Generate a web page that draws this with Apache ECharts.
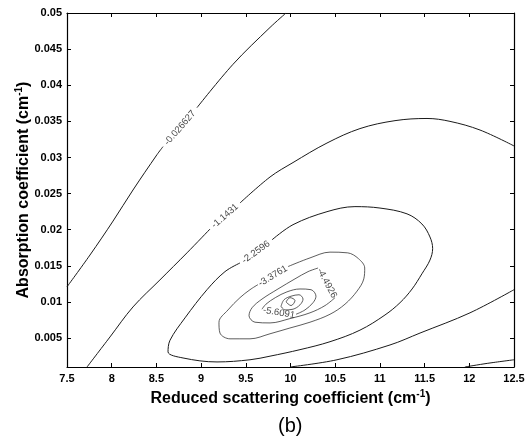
<!DOCTYPE html>
<html><head><meta charset="utf-8">
<script src="https://cdn.jsdelivr.net/npm/echarts@6/dist/echarts.min.js"></script>
<style>html,body{margin:0;padding:0;background:#fff}#c{width:532px;height:446px}</style>
</head><body><div id="c"></div>
<script>
// ---- data ----
const xTicks = [7.5, 8, 8.5, 9, 9.5, 10, 10.5, 11, 11.5, 12, 12.5];
const yTicks = [0.005, 0.01, 0.015, 0.02, 0.025, 0.03, 0.035, 0.04, 0.045, 0.05];
const levelNames = ['-0.026627', '-1.1431', '-2.2596', '-3.3761', '-4.4926', '-5.6091'];
const levelLabelPos = [[8.764, 0.0341], [9.267, 0.0219], [9.614, 0.0169], [9.804, 0.0136], [10.408, 0.0126], [9.871, 0.0085]];

// level -0.026627
const c1a = [[7.5,0.0121],[7.757,0.0165],[8.015,0.0212],[8.238,0.0255],[8.507,0.0304],[8.574,0.0315]];
const c1b = [[8.954,0.0369],[9.357,0.0429],[9.771,0.0480],[9.95,0.05]];
const c1c = [[11.95,0.001],[12.2,0.0015],[12.5,0.0020]];
// level -1.1431
const c2a = [[7.724,0.001],[7.981,0.00516],[8.238,0.00931],[8.54,0.01306],[8.842,0.0168],[9.1,0.0201]];
const c2b = [[9.435,0.0237],[9.771,0.0273],[10.028,0.0293],[10.408,0.0320],[10.777,0.0340],[11.169,0.0351],[11.527,0.0354],[11.784,0.0350],[12.12,0.0338],[12.5,0.0316]];
const c2c = [[9.994,0.001],[10.52,0.0020],[11.113,0.00405],[11.449,0.0057],[12.008,0.0085],[12.5,0.0117]];
// level -2.2596
const c3 = [[9.793,0.0186],[10.028,0.0207],[10.408,0.0225],[10.721,0.0232],[11.001,0.0230],[11.303,0.0222],[11.47,0.0208],[11.56,0.0190],[11.59,0.0174],[11.56,0.0158],[11.47,0.0139],[11.36,0.0118],[11.225,0.0099],[11.057,0.0082],[10.777,0.0061],[10.442,0.0045],[10.106,0.0034],[9.771,0.0025],[9.547,0.0020],[9.178,0.0017],[8.798,0.00225],[8.63,0.0031],[8.652,0.0047],[8.82,0.0078],[9.066,0.0117],[9.267,0.0142],[9.435,0.0154]];
// level -3.3761
const c4 = [[9.972,0.0149],[10.218,0.0161],[10.442,0.0169],[10.64,0.0168],[10.76,0.0160],[10.83,0.0147],[10.82,0.0132],[10.744,0.0115],[10.61,0.0097],[10.442,0.0083],[10.218,0.0072],[9.994,0.0064],[9.771,0.0056],[9.547,0.0049],[9.323,0.0049],[9.211,0.0057],[9.2,0.0072],[9.301,0.0089],[9.435,0.0106],[9.547,0.0117],[9.636,0.0124]];
// level -4.4926
const c5 = [[10.498,0.0106],[10.386,0.0095],[10.218,0.0085],[9.994,0.0077],[9.771,0.0071],[9.603,0.0072],[9.536,0.0081],[9.57,0.0092],[9.681,0.0104],[9.86,0.0118],[10.05,0.0132],[10.196,0.0142],[10.308,0.0147]];
// level -5.6091
const c6 = [[10.062,0.0083],[10.162,0.0089],[10.252,0.0099],[10.285,0.0108],[10.23,0.0117],[10.106,0.0118],[9.96,0.0114],[9.83,0.0106],[9.726,0.0097],[9.681,0.0090]];
// innermost levels
const c7 = [[9.894,0.0094],[9.927,0.0103],[10.006,0.0108],[10.095,0.0110],[10.14,0.0104],[10.106,0.0096],[10.028,0.0090],[9.938,0.0089],[9.894,0.0094]];
const c8 = [[9.95,0.0100],[9.994,0.0106],[10.05,0.0102],[10.006,0.0095],[9.95,0.0100]];

const segments = [c1a, c1b, c1c, c2a, c2b, c2c, c3, c4, c5, c6, c7, c8];

// ---- styling ----
const labelRotate = [49, 41, 36, 31, -62, -10];
const FONT = 'Liberation Sans, Arial, sans-serif';

const lineSeries = segments.map((seg, i) => ({
  type: 'line',
  data: seg,
  showSymbol: false,
  smooth: 0.35,
  silent: true,
  animation: false,
  lineStyle: { color: i < 7 ? '#1a1a1a' : '#333', width: i < 7 ? 1 : 0.8 },
  z: 2
}));

const labelSeries = {
  type: 'scatter',
  symbolSize: 0,
  silent: true,
  animation: false,
  data: levelNames.map((n, i) => ({
    name: n,
    value: levelLabelPos[i],
    label: { rotate: labelRotate[i] }
  })),
  label: {
    show: true,
    position: 'inside',
    formatter: p => p.name,
    fontFamily: FONT,
    fontSize: 9.5,
    color: '#111'
  },
  z: 3
};

const supStyle = { fontFamily: FONT, fontSize: 10, fontWeight: 'bold', color: '#000', padding: [0, 0, 10, 0] };

const axisCommonX = {
  type: 'value', min: 7.5, max: 12.5, interval: 0.5,
  splitLine: { show: false },
  axisLine: { show: true, onZero: false, lineStyle: { color: '#000', width: 1.2 } },
  axisTick: { show: true, inside: true, length: 4, lineStyle: { color: '#000' } }
};
const axisCommonY = {
  type: 'value', min: 0.001, max: 0.05,
  splitLine: { show: false },
  axisLine: { show: true, onZero: false, lineStyle: { color: '#000', width: 1.2 } },
  axisTick: { show: true, inside: true, length: 4, customValues: yTicks, lineStyle: { color: '#000' } }
};

const chart = echarts.init(document.getElementById('c'), null, { renderer: 'canvas' });
chart.setOption({
  animation: false,
  backgroundColor: '#fff',
  grid: { left: 67, right: 18, top: 13, bottom: 79, containLabel: false },
  xAxis: [
    Object.assign({}, axisCommonX, {
      position: 'bottom',
      name: 'Reduced scattering coefficient (cm{sup|-1})',
      nameLocation: 'middle',
      nameGap: 22,
      nameTextStyle: { fontFamily: FONT, fontSize: 16, fontWeight: 'bold', color: '#000', rich: { sup: supStyle } },
      axisLabel: { show: true, fontFamily: FONT, fontSize: 11, fontWeight: 'bold', color: '#000', margin: 6,
        showMinLabel: true, showMaxLabel: true }
    }),
    Object.assign({}, axisCommonX, { position: 'top', axisLabel: { show: false } })
  ],
  yAxis: [
    Object.assign({}, axisCommonY, {
      position: 'left',
      name: 'Absorption coefficient (cm{sup|-1})',
      nameLocation: 'middle',
      nameGap: 33,
      nameMoveOverlap: false,
      nameTextStyle: { fontFamily: FONT, fontSize: 16, fontWeight: 'bold', color: '#000', rich: { sup: supStyle } },
      axisLabel: { show: true, customValues: yTicks, fontFamily: FONT, fontSize: 11, fontWeight: 'bold', color: '#000', margin: 5 }
    }),
    Object.assign({}, axisCommonY, { position: 'right', axisLabel: { show: false } })
  ],
  graphic: [{
    type: 'text', left: 278, top: 416,
    style: { text: '(b)', fontFamily: FONT, fontSize: 20, fill: '#000' }
  }],
  series: lineSeries.concat([labelSeries])
});
</script></body></html>
